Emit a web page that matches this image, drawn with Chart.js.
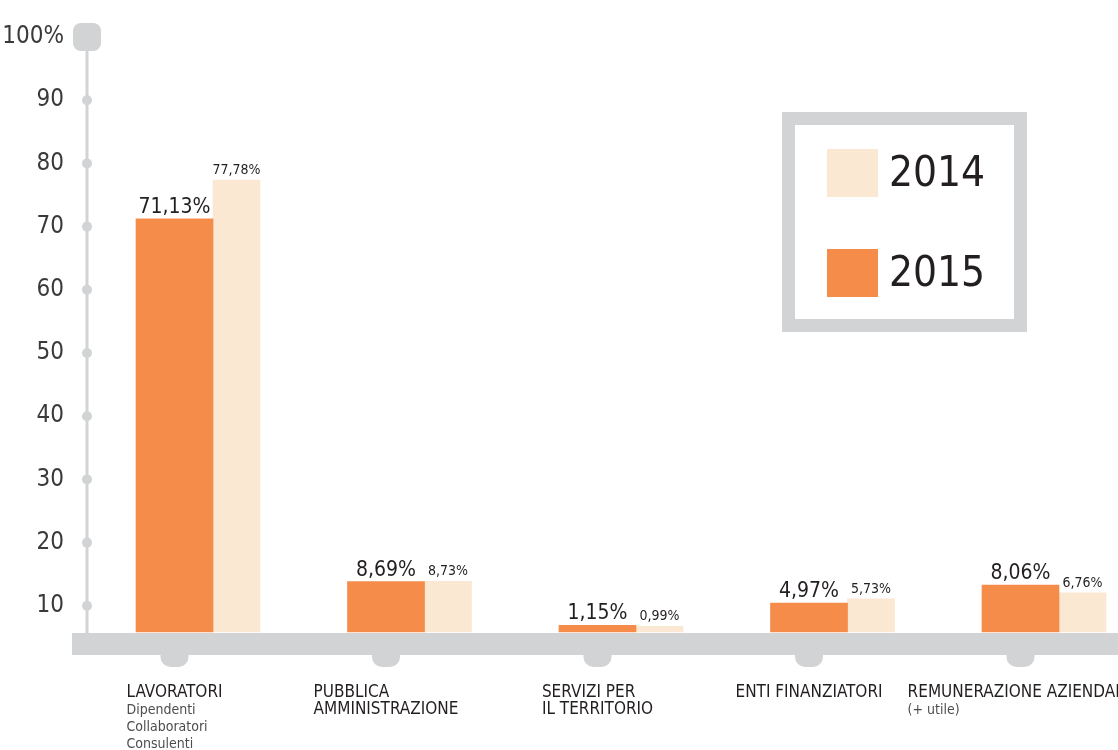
<!DOCTYPE html>
<html>
<head>
<meta charset="utf-8">
<script src="https://cdn.jsdelivr.net/npm/chart.js@4"></script>
<style>
  body { margin: 0; background: #fff; }
</style>
</head>
<body>
<canvas id="valoreChart" width="1118" height="750"></canvas>
<script>
// categorie e valori (in %)
const categoryLines = [
    ['LAVORATORI'],
    ['PUBBLICA', 'AMMINISTRAZIONE'],
    ['SERVIZI PER', 'IL TERRITORIO'],
    ['ENTI FINANZIATORI'],
    ['REMUNERAZIONE AZIENDALE']
];
const categoryNotes = [
    ['Dipendenti', 'Collaboratori', 'Consulenti'],
    [],
    [],
    [],
    ['(+ utile)']
];
const values2015 = [71.13, 8.69, 1.15, 4.97, 8.06];
const values2014 = [77.78, 8.73, 0.99, 5.73, 6.76];
const yTicks = [10, 20, 30, 40, 50, 60, 70, 80, 90, 100];

const FONT = "'DejaVu Sans Condensed', 'Liberation Sans Narrow', sans-serif";
const ORANGE = '#f58c4a';
const CREAM = '#fbe8d2';
const GREY = '#d1d3d4';
const TEXT = '#231f20';

function fmt(v) {
    return v.toFixed(2).replace('.', ',') + '%';
}

const decorations = {
    id: 'decorations',
    beforeDatasetsDraw(chart) {
        const ctx = chart.ctx;
        const y = chart.scales.y;
        const yb = chart.scales.yb;
        const base = yb.getPixelForValue(0);
        const axisX = 87;
        const top = y.getPixelForValue(100);
        ctx.save();
        ctx.fillStyle = GREY;
        // asse verticale
        ctx.fillRect(axisX - 1.5, top, 3, base - top + 2);
        yTicks.forEach(v => {
            if (v === 100) return;
            ctx.beginPath();
            ctx.arc(axisX, y.getPixelForValue(v), 5, 0, Math.PI * 2);
            ctx.fill();
        });
        ctx.beginPath();
        ctx.roundRect(axisX - 14, top - 14, 28, 28, 8);
        ctx.fill();
        // base
        ctx.fillRect(72, base + 1, chart.width - 72, 22);
        const meta = chart.getDatasetMeta(0);
        meta.data.forEach(bar => {
            ctx.beginPath();
            ctx.roundRect(bar.x - 14, base + 20, 28, 15, [0, 0, 10, 10]);
            ctx.fill();
        });
        ctx.restore();
    },
    afterDatasetsDraw(chart) {
        const ctx = chart.ctx;
        const yb = chart.scales.yb;
        const base = yb.getPixelForValue(0);
        ctx.save();
        ctx.fillStyle = TEXT;
        ctx.textAlign = 'center';
        ctx.textBaseline = 'alphabetic';
        // etichette valori
        const m15 = chart.getDatasetMeta(0);
        const m14 = chart.getDatasetMeta(1);
        m15.data.forEach((bar, i) => {
            ctx.font = '21px ' + FONT;
            ctx.fillText(fmt(values2015[i]), bar.x, bar.y - 6);
        });
        m14.data.forEach((bar, i) => {
            ctx.font = '14px ' + FONT;
            ctx.fillText(fmt(values2014[i]), bar.x, bar.y - 6);
        });
        // etichette categorie
        ctx.textAlign = 'left';
        m15.data.forEach((bar, i) => {
            const lines = categoryLines[i];
            const notes = categoryNotes[i];
            ctx.font = '17px ' + FONT;
            let w = Math.max(...lines.map(l => ctx.measureText(l).width));
            ctx.font = '14px ' + FONT;
            notes.forEach(n => { w = Math.max(w, ctx.measureText(n).width); });
            const left = bar.x - w / 2;
            let ty = base + 65;
            ctx.fillStyle = TEXT;
            ctx.font = '17px ' + FONT;
            lines.forEach(l => { ctx.fillText(l, left, ty); ty += 17.5; });
            ctx.fillStyle = '#4d4d4f';
            ctx.font = '14px ' + FONT;
            notes.forEach(n => { ctx.fillText(n, left, ty); ty += 17; });
        });
        // legenda
        ctx.fillStyle = GREY;
        ctx.fillRect(782, 112, 245, 220);
        ctx.fillStyle = '#fff';
        ctx.fillRect(795, 125, 219, 194);
        const items = [chart.data.datasets[1], chart.data.datasets[0]];
        ctx.font = '42px ' + FONT;
        ctx.textBaseline = 'middle';
        items.forEach((ds, i) => {
            const cy = 173 + i * 100;
            ctx.fillStyle = ds.backgroundColor;
            ctx.fillRect(827, cy - 24, 51, 48);
            ctx.fillStyle = TEXT;
            ctx.fillText(ds.label, 889, cy + 2);
        });
        ctx.restore();
    }
};

new Chart(document.getElementById('valoreChart'), {
    type: 'bar',
    data: {
        labels: categoryLines,
        datasets: [
            {
                label: '2015',
                data: values2015,
                backgroundColor: ORANGE,
                barThickness: 77,
                yAxisID: 'yb',
                clip: false
            },
            {
                label: '2014',
                data: values2014,
                backgroundColor: CREAM,
                barThickness: 47,
                yAxisID: 'yb',
                clip: false
            }
        ]
    },
    options: {
        responsive: false,
        animation: false,
        layout: {
            padding: { left: 0, right: 59, top: 37, bottom: 81 }
        },
        plugins: {
            legend: { display: false },
            tooltip: { enabled: false }
        },
        scales: {
            x: {
                display: false,
                offset: false
            },
            y: {
                position: 'left',
                min: 0,
                max: 100,
                afterBuildTicks(scale) {
                    scale.ticks = yTicks.map(v => ({ value: v }));
                },
                afterFit(scale) {
                    scale.width = 213;
                    scale.paddingTop = 0;
                    scale.paddingBottom = 0;
                },
                grid: { display: false, drawTicks: false },
                border: { display: false },
                ticks: {
                    padding: 149,
                    color: '#3a3a3a',
                    font: { family: FONT, size: 24 },
                    callback: v => (v === 100 ? '100%' : v)
                }
            },
            yb: {
                display: false,
                min: -6.37,
                max: 102.43
            }
        }
    },
    plugins: [decorations]
});
</script>
</body>
</html>
